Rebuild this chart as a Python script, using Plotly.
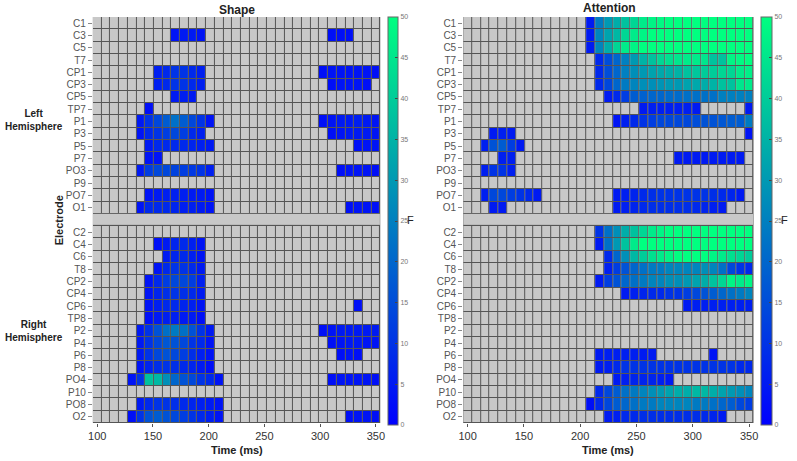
import numpy as np
import plotly.graph_objects as go

W, H = 797, 461

LEFT_ELECTRODES = ["C1", "C3", "C5", "T7", "CP1", "CP3", "CP5", "TP7",
                   "P1", "P3", "P5", "P7", "PO3", "P9", "PO7", "O1"]
RIGHT_ELECTRODES = ["C2", "C4", "C6", "T8", "CP2", "CP4", "CP6", "TP8",
                    "P2", "P4", "P6", "P8", "PO4", "P10", "PO8", "O2"]
TIME_MS = np.linspace(100, 350, 33)          # 7.8125 ms bins (128 Hz)
X_TICKS = [100, 150, 200, 250, 300, 350]
F_TICKS = [0, 5, 10, 15, 20, 25, 30, 35, 40, 45, 50]

# significant F values: electrode -> list of (first time-bin index, F values)
SHAPE_LEFT = {
    "C3": [(9, [4, 5, 5, 4]), (27, [3, 3, 3])],
    "CP1": [(7, [6, 8, 10, 10, 8, 6]), (26, [3, 4, 4, 4, 4, 4, 3])],
    "CP3": [(7, [6, 8, 10, 10, 8, 6]), (27, [3, 4, 4, 4, 3])],
    "CP5": [(9, [5, 6, 5])],
    "TP7": [(6, [3])],
    "P1": [(5, [5, 10, 14, 18, 22, 18, 14, 10, 4]), (26, [3, 4, 5, 5, 6, 5, 4])],
    "P3": [(5, [4, 8, 10, 12, 14, 12, 8, 6]), (27, [3, 4, 5, 5, 5, 4])],
    "P5": [(6, [5, 8, 8, 8, 8, 7, 6, 5]), (30, [3, 4, 4])],
    "P7": [(6, [4, 4])],
    "PO3": [(5, [5, 12, 14, 14, 13, 12, 11, 10, 6]), (28, [3, 4, 4, 4, 3])],
    "PO7": [(6, [4, 5, 6, 6, 6, 5, 5, 4])],
    "O1": [(5, [4, 8, 8, 8, 7, 6, 6, 5, 4]), (29, [3, 4, 4, 3])],
}
SHAPE_RIGHT = {
    "C4": [(7, [3, 5, 7, 8, 6, 4])],
    "C6": [(8, [5, 7, 8, 6, 4])],
    "T8": [(7, [4, 8, 10, 10, 8, 5])],
    "CP2": [(6, [4, 8, 12, 14, 14, 12, 6])],
    "CP4": [(6, [4, 7, 9, 10, 9, 8, 5])],
    "CP6": [(6, [4, 6, 8, 8, 7, 6, 4]), (30, [3])],
    "TP8": [(6, [3, 5, 6, 6, 5, 5, 3])],
    "P2": [(5, [5, 10, 16, 22, 24, 22, 16, 10, 5]), (26, [3, 4, 5, 5, 5, 5, 5])],
    "P4": [(5, [5, 10, 14, 17, 16, 14, 10, 8, 4]), (27, [3, 4, 5, 5, 4, 4])],
    "P6": [(5, [5, 10, 14, 16, 14, 12, 9, 6, 4]), (28, [3, 4, 3])],
    "P8": [(5, [4, 7, 9, 10, 9, 8, 7, 5, 3])],
    "PO4": [(4, [4, 10, 38, 36, 28, 20, 16, 14, 10, 8, 4]), (27, [3, 4, 4, 4, 4, 3])],
    "PO8": [(5, [5, 8, 10, 10, 9, 8, 7, 6, 5, 4])],
    "O2": [(4, [3, 10, 16, 18, 16, 14, 12, 10, 8, 6, 4]), (29, [3, 4, 4, 3])],
}
ATTN_LEFT = {
    "C1": [(14, [5, 24, 30, 34, 38, 42, 46, 48, 49, 50, 50, 50, 50, 50, 50, 50, 50, 50, 50])],
    "C3": [(14, [5, 26, 32, 36, 42, 46, 48, 50, 50, 50, 50, 50, 50, 50, 50, 50, 50, 50, 50])],
    "C5": [(14, [5, 26, 34, 42, 46, 48, 50, 50, 50, 50, 50, 50, 50, 50, 50, 50, 50, 50, 50])],
    "T7": [(15, [8, 15, 20, 25, 30, 35, 38, 42, 44, 45, 46, 46, 45, 38, 38, 48, 49, 50])],
    "CP1": [(15, [8, 15, 20, 25, 28, 30, 32, 33, 34, 35, 38, 39, 40, 40, 42, 42, 46, 47])],
    "CP3": [(15, [8, 14, 20, 24, 26, 28, 28, 29, 30, 30, 32, 33, 34, 35, 38, 38, 45, 46])],
    "CP5": [(16, [5, 8, 12, 18, 19, 20, 20, 21, 21, 22, 22, 22, 22, 25, 25, 25, 25])],
    "TP7": [(20, [5, 6, 6, 6, 6, 6, 5]), (32, [5])],
    "P1": [(17, [4, 6, 8, 10, 12, 14, 14, 14, 14, 15, 16, 16, 17, 18, 18, 24])],
    "P3": [(3, [5, 6, 5]), (32, [4])],
    "P5": [(2, [6, 16, 18, 12, 5])],
    "P7": [(4, [6, 6]), (24, [5, 5, 5, 5, 5, 5, 5, 5])],
    "PO3": [(2, [6, 10, 10, 6])],
    "PO7": [(2, [6, 14, 14, 12, 10, 8, 5]),
            (17, [5, 6, 7, 8, 9, 10, 10, 10, 10, 10, 10, 9, 8, 7, 5])],
    "O1": [(3, [5, 5]), (17, [5, 6, 7, 8, 9, 9, 9, 9, 9, 8, 7, 6, 5])],
}
ATTN_RIGHT = {
    "C2": [(15, [10, 22, 28, 34, 38, 42, 46, 48, 50, 50, 50, 50, 50, 50, 50, 50, 50, 50])],
    "C4": [(15, [5, 22, 30, 38, 46, 50, 50, 50, 50, 50, 50, 50, 50, 50, 50, 50, 50, 50])],
    "C6": [(16, [8, 20, 28, 36, 40, 44, 46, 48, 50, 50, 50, 50, 48, 46, 44, 42, 40])],
    "T8": [(16, [6, 12, 16, 20, 22, 24, 24, 26, 26, 26, 26, 28, 26, 22, 14, 10, 8])],
    "CP2": [(15, [5, 12, 16, 20, 22, 24, 26, 26, 28, 28, 30, 32, 34, 38, 42, 48, 46, 48])],
    "CP4": [(18, [5, 6, 7, 8, 8, 10, 10, 12, 14, 16, 18, 20, 22, 24, 26])],
    "CP6": [(25, [5, 6, 6, 6, 6, 6, 6, 6])],
    "P6": [(15, [5, 6, 6, 6, 6, 5, 5]), (28, [4])],
    "P8": [(15, [5, 6, 8, 10, 10, 10, 10, 10, 10, 10, 10, 10, 10, 10, 10, 10, 8, 8])],
    "PO4": [(17, [5, 6, 7, 7, 7, 6, 5])],
    "P10": [(15, [8, 14, 18, 22, 24, 26, 28, 30, 32, 34, 34, 36, 36, 34, 32, 30, 28, 26])],
    "PO8": [(14, [3, 8, 14, 18, 20, 22, 24, 24, 26, 26, 26, 26, 24, 24, 22, 20, 18, 14, 12])],
    "O2": [(16, [5, 6, 8, 8, 9, 9, 9, 9, 9, 9, 9, 8, 7, 5])],
}

NROW = len(LEFT_ELECTRODES) + 1 + len(RIGHT_ELECTRODES)
GAP_ROW = len(LEFT_ELECTRODES)
NCOL = len(TIME_MS)


def build(left, right):
    z = np.full((NROW, NCOL), np.nan)
    for i, e in enumerate(LEFT_ELECTRODES):
        for s, vals in left.get(e, []):
            z[i, s:s + len(vals)] = vals
    for i, e in enumerate(RIGHT_ELECTRODES):
        for s, vals in right.get(e, []):
            z[GAP_ROW + 1 + i, s:s + len(vals)] = vals
    return z


WINTER = [[0, "rgb(0,0,255)"], [1, "rgb(0,255,128)"]]
GREY = [[0, "#c8c8c8"], [1, "#c8c8c8"]]
FONT = "Liberation Sans, Arial, sans-serif"

rows = list(range(NROW))
tickvals = [r for r in rows if r != GAP_ROW]
ticktext = LEFT_ELECTRODES + RIGHT_ELECTRODES
base = np.zeros((NROW, NCOL))
base[GAP_ROW, :] = np.nan
half = (TIME_MS[1] - TIME_MS[0]) / 2
xr = [TIME_MS[0] - half, TIME_MS[-1] + half]

fig = go.Figure()
panels = [
    ("x", "y", build(SHAPE_LEFT, SHAPE_RIGHT), 388, 10),
    ("x2", "y2", build(ATTN_LEFT, ATTN_RIGHT), 766, 11),
]
for xa, ya, z, cbx, cbt in panels:
    fig.add_trace(go.Heatmap(x=TIME_MS, y=rows, z=base, colorscale=GREY, showscale=False,
                             xgap=1, ygap=1, hoverinfo="skip", xaxis=xa, yaxis=ya))
    fig.add_trace(go.Heatmap(x=xr, y=[GAP_ROW - 0.5, GAP_ROW + 0.5], z=[[0]], colorscale=GREY,
                             showscale=False, ygap=1, hoverinfo="skip", xaxis=xa, yaxis=ya))
    fig.add_trace(go.Heatmap(
        x=TIME_MS, y=rows, z=z, colorscale=WINTER, zmin=0, zmax=50, xgap=1, ygap=1,
        xaxis=xa, yaxis=ya,
        colorbar=dict(x=cbx / W, xanchor="left", thickness=cbt, len=408 / H, lenmode="fraction",
                      y=1 - 221 / H, yanchor="middle", ypad=0, xpad=0,
                      tickvals=F_TICKS, ticks="inside", ticklen=3, tickcolor="#444",
                      tickfont=dict(size=7, color="#777", family=FONT),
                      outlinewidth=1, outlinecolor="#666")))

ytop, ybot = 17, 423
common_x = dict(range=xr, tickvals=X_TICKS, ticks="outside", ticklen=3, tickcolor="#555",
                showgrid=False, zeroline=False, showline=False,
                tickfont=dict(size=11, color="#333", family=FONT))
common_y = dict(range=[NROW - 0.5, -0.5], tickvals=tickvals, ticktext=ticktext,
                ticks="outside", ticklen=4, tickcolor="#888", showgrid=False, zeroline=False,
                tickfont=dict(size=10, color="#555", family=FONT),
                domain=[1 - ybot / H, 1 - ytop / H])
fig.update_layout(
    width=W, height=H, margin=dict(l=0, r=0, t=0, b=0),
    paper_bgcolor="white", plot_bgcolor="#555555",
    font=dict(family=FONT),
    xaxis=dict(domain=[89 / W, 380 / W], anchor="y", **common_x),
    yaxis=dict(anchor="x", **common_y),
    xaxis2=dict(domain=[464 / W, 758 / W], anchor="y2", **common_x),
    yaxis2=dict(anchor="x2", **common_y),
    showlegend=False,
)


def ann(text, x, y, size, bold=True, angle=0, color="#222"):
    t = "<b>%s</b>" % text if bold else text
    fig.add_annotation(text=t, x=x / W, y=1 - y / H, xref="paper", yref="paper",
                       showarrow=False, textangle=angle, xanchor="center", yanchor="middle",
                       font=dict(size=size, color=color, family=FONT))


ann("Shape", 235, 10, 12)
ann("Attention", 612, 8, 12)
ann("Time (ms)", 235, 450, 11)
ann("Time (ms)", 611, 450, 11)
ann("Electrode", 55, 220, 11, angle=-90)
ann("Left<br>Hemisphere", 29, 120, 10)
ann("Right<br>Hemisphere", 29, 331, 10)
ann("F", 411, 220, 11, bold=False)
ann("F", 789, 220, 11, bold=False)

fig.write_html("out.html")
